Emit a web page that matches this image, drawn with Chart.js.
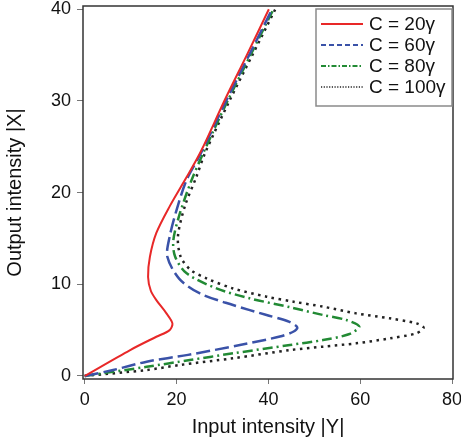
<!DOCTYPE html>
<html lang="en">
<head>
<meta charset="UTF-8">
<title>Output intensity vs input intensity</title>
<script src="https://cdn.jsdelivr.net/npm/chart.js"></script>
<style>
  html, body { margin: 0; padding: 0; background: #fff; }
</style>
</head>
<body>
<canvas id="chart" width="461" height="444"></canvas>
<script>
// series labels
const seriesLabels = ['C = 20\u03b3', 'C = 60\u03b3', 'C = 80\u03b3', 'C = 100\u03b3'];

// |Y| (input) and |X| (output), in order along each curve
const inC20  = [0, 9.9, 15.6, 18.5, 19.1, 17.8, 15.6, 14.4, 13.8, 14.2, 15.6, 18.5, 22.2, 25.4, 30.4, 35.3, 40.1];
const outC20 = [0, 2.83, 4.28, 5.0, 5.74, 6.83, 8.28, 9.3, 10.8, 13.0, 15.6, 18.5, 21.7, 24.6, 30, 35, 40];

const inC60  = [0, 6.2, 13.5, 22.5, 33.8, 42.5, 45.5, 46.3, 44.6, 39.6, 32.3, 25.1, 20.6, 18.0, 18.5, 20.0, 22.2, 25.1, 30.8, 35.8, 40.8];
const outC60 = [0, 0.65, 1.56, 2.3, 3.38, 4.3, 4.85, 5.3, 5.9, 6.65, 7.74, 9.0, 10.6, 13.0, 15.2, 18.1, 21.4, 24.1, 30, 35, 40];

const inC80  = [0, 13.5, 22.9, 32.3, 44.7, 51.9, 57.5, 59.8, 57.0, 51.9, 44.7, 35.9, 28.7, 22.2, 19.7, 19.3, 20.7, 23.3, 25.8, 31.1, 36.1, 41.1];
const outC80 = [0, 1.0, 1.74, 2.47, 3.38, 3.92, 4.55, 5.38, 6.1, 6.65, 7.5, 8.47, 9.55, 11.2, 13.0, 14.8, 17.7, 21.4, 24.3, 30, 35, 40];

const inC100  = [0, 13.5, 20.7, 32.3, 44.7, 51.9, 59.1, 66.4, 72.2, 73.8, 72.2, 66.4, 59.1, 51.9, 45.5, 39.6, 32.3, 26.5, 23.0, 20.9, 20.3, 21.8, 24.3, 26.2, 31.5, 36.5, 41.5];
const outC100 = [0, 0.65, 1.2, 1.93, 2.83, 3.2, 3.56, 4.1, 4.65, 5.27, 5.74, 6.29, 6.83, 7.56, 8.1, 8.65, 9.55, 10.65, 11.6, 13.0, 15.2, 18.5, 21.7, 24.3, 30, 35, 40];

const xTickValues = [0, 20, 40, 60, 80];
const yTickValues = [0, 10, 20, 30, 40];

const toPoints = (xs, ys) => xs.map((x, i) => ({ x: x, y: ys[i] }));

const FONT = 'Liberation Sans, Arial, sans-serif';

const framePlugin = {
    id: 'frameAndLegend',
    afterDraw(chart, args, opts) {
        const ctx = chart.ctx;
        const a = chart.chartArea;
        ctx.save();
        // plot frame
        ctx.strokeStyle = '#333';
        ctx.lineWidth = 1.5;
        ctx.setLineDash([]);
        ctx.strokeRect(a.left, a.top, a.right - a.left, a.bottom - a.top);

        // legend box, top-right inside the plot
        const x0 = a.right - 137, y0 = a.top + 3, w = 136, h = 97;
        ctx.fillStyle = '#fff';
        ctx.fillRect(x0, y0, w, h);
        ctx.strokeStyle = '#8a8a8a';
        ctx.lineWidth = 1.5;
        ctx.strokeRect(x0, y0, w, h);

        chart.data.datasets.forEach((ds, i) => {
            const y = y0 + 15 + i * 21;
            ctx.beginPath();
            ctx.strokeStyle = ds.borderColor;
            ctx.lineWidth = opts.lineWidths[i];
            ctx.setLineDash(opts.dashes[i]);
            ctx.moveTo(x0 + 5, y);
            ctx.lineTo(x0 + 47, y);
            ctx.stroke();
            ctx.setLineDash([]);
            ctx.fillStyle = '#111';
            ctx.font = '19px ' + FONT;
            ctx.textBaseline = 'middle';
            ctx.fillText(ds.label, x0 + 53, y + 1);
        });
        ctx.restore();
    }
};

const common = { showLine: true, pointRadius: 0, fill: false, tension: 0.3, borderCapStyle: 'butt' };

new Chart(document.getElementById('chart'), {
    type: 'scatter',
    data: {
        datasets: [
            Object.assign({}, common, {
                label: seriesLabels[0], data: toPoints(inC20, outC20),
                borderColor: 'rgb(232,40,40)', borderWidth: 2
            }),
            Object.assign({}, common, {
                label: seriesLabels[1], data: toPoints(inC60, outC60),
                borderColor: 'rgb(58,82,168)', borderWidth: 2.5, borderDash: [14, 5]
            }),
            Object.assign({}, common, {
                label: seriesLabels[2], data: toPoints(inC80, outC80),
                borderColor: 'rgb(34,138,52)', borderWidth: 2.5, borderDash: [10, 4, 2, 4]
            }),
            Object.assign({}, common, {
                label: seriesLabels[3], data: toPoints(inC100, outC100),
                borderColor: 'rgb(34,34,34)', borderWidth: 2.5, borderDash: [2.5, 4.5]
            })
        ]
    },
    options: {
        responsive: false,
        animation: false,
        layout: { padding: { top: 6, right: 8, bottom: 0, left: 0 } },
        plugins: {
            legend: { display: false },
            tooltip: { enabled: false },
            frameAndLegend: {
                dashes: [[], [5, 3], [5, 2, 1.5, 2], [1.2, 1.5]],
                lineWidths: [2, 2, 2, 1.5]
            }
        },
        scales: {
            x: {
                type: 'linear',
                min: -0.37,
                max: 80.2,
                afterBuildTicks: s => { s.ticks = xTickValues.map(v => ({ value: v })); },
                afterFit: s => { s.height = 65; s.paddingLeft = 0; s.paddingRight = 0; },
                grid: { drawOnChartArea: false, tickLength: 5, color: '#777', lineWidth: 1 },
                border: { display: false },
                ticks: { font: { family: FONT, size: 18 }, color: '#111', padding: 5, maxRotation: 0 },
                title: {
                    display: true, text: 'Input intensity |Y|', color: '#111',
                    font: { family: FONT, size: 20 }, padding: { top: 0, bottom: 5 }
                }
            },
            y: {
                type: 'linear',
                min: -0.33,
                max: 40.36,
                afterBuildTicks: s => { s.ticks = yTickValues.map(v => ({ value: v })); },
                afterFit: s => { s.width = 83; s.paddingTop = 0; s.paddingBottom = 0; },
                grid: { drawOnChartArea: false, tickLength: 6, color: '#777', lineWidth: 1 },
                border: { display: false },
                ticks: { font: { family: FONT, size: 18 }, color: '#111', padding: 6 },
                title: {
                    display: true, text: 'Output intensity |X|', color: '#111',
                    font: { family: FONT, size: 20 }, padding: { top: 3, bottom: 0 }
                }
            }
        }
    },
    plugins: [framePlugin]
});
</script>
</body>
</html>
